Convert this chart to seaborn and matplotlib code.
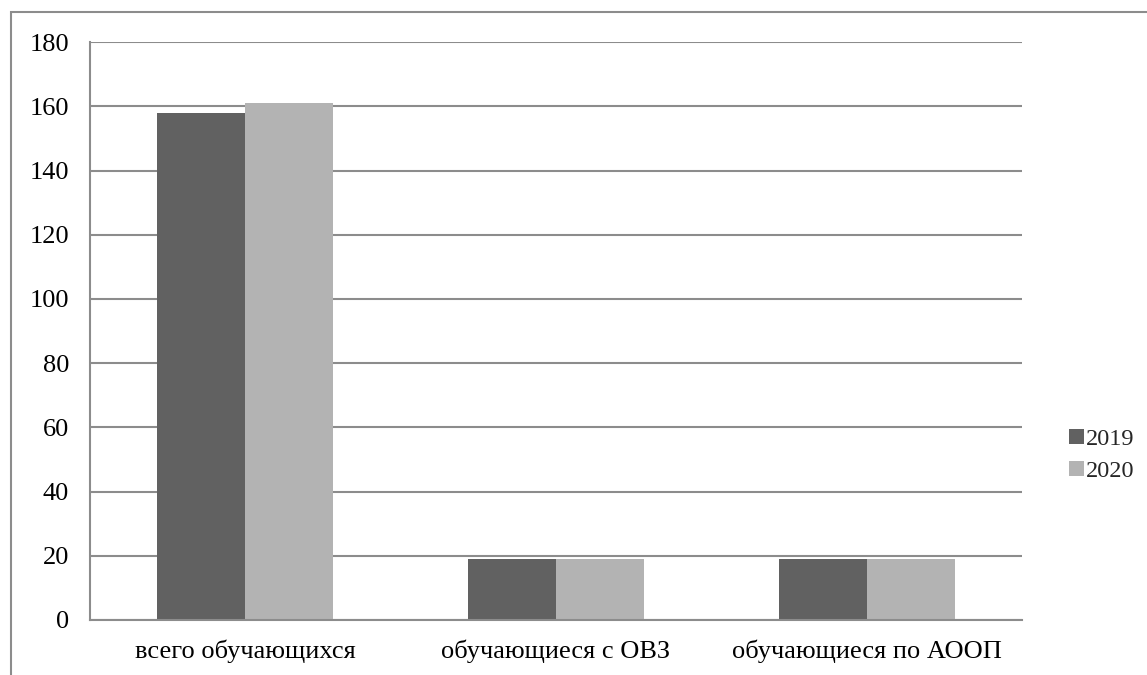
import pandas as pd
import matplotlib.pyplot as plt
import seaborn as sns
from matplotlib.patches import Rectangle

categories = ['всего обучающихся', 'обучающиеся с ОВЗ', 'обучающиеся по АООП']
years = ['2019', '2020']
values_2019 = [158, 19, 19]
values_2020 = [161, 19, 19]
y_ticks = [0, 20, 40, 60, 80, 100, 120, 140, 160, 180]

df = pd.DataFrame({
    'category': categories * 2,
    'year': [years[0]] * 3 + [years[1]] * 3,
    'value': values_2019 + values_2020,
})

sns.set_theme(style="white")
plt.rcParams['font.family'] = ['Liberation Serif', 'DejaVu Serif']

fig = plt.figure(figsize=(11.47, 6.75), dpi=100)
ax = fig.add_axes([0.0785, 0.0815, 0.8125, 0.856])

sns.barplot(data=df, x='category', y='value', hue='year',
            palette=['#616161', '#b3b3b3'], width=0.567, saturation=1,
            linewidth=0, ax=ax, legend=True)

ax.set_ylim(0, 180)
ax.set_xlim(-0.5, 2.5)
ax.set_yticks(y_ticks)
ax.set_yticklabels([str(t) for t in y_ticks], fontsize=19, color='black')
ax.set_xticks([-0.5, 0.5, 1.5, 2.5], minor=False)
ax.set_xticklabels([])
ax.set_xticks([0, 1, 2], minor=True)
ax.set_xticklabels(categories, minor=True, fontsize=19, color='black')
ax.tick_params(axis='x', which='minor', length=0, pad=14)
ax.tick_params(axis='x', which='major', length=7, width=1.5, color='#8c8c8c', direction='out')
ax.tick_params(axis='y', length=7, width=1.5, color='#8c8c8c', direction='out', pad=8)
ax.set_xlabel('')
ax.set_ylabel('')

ax.yaxis.grid(True, color='#8c8c8c', linewidth=1.5)
ax.set_axisbelow(True)
for side in ['top', 'right']:
    ax.spines[side].set_visible(False)
for side in ['left', 'bottom']:
    ax.spines[side].set_color('#8c8c8c')
    ax.spines[side].set_linewidth(1.5)

# legend on the right, Excel style
handles, labels = ax.get_legend_handles_labels()
ax.legend(handles, labels, loc='center left', bbox_to_anchor=(1.027, 0.285),
          frameon=False, fontsize=17.5, handlelength=0.6, handleheight=0.6,
          handletextpad=0.1, labelspacing=0.45)

# outer chart frame
fig.patches.append(Rectangle((11 / 1147, -0.2), 1.2, 0.2 + (675 - 12) / 675,
                             transform=fig.transFigure, fill=False,
                             edgecolor='#8c8c8c', linewidth=1.5))

fig.savefig('out.png', dpi=100, facecolor='white')
